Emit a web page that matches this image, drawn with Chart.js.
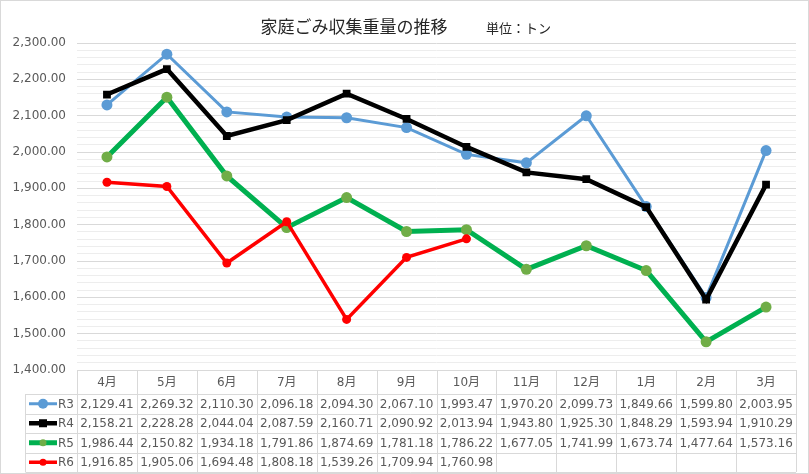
<!DOCTYPE html>
<html>
<head>
<meta charset="utf-8">
<script src="https://cdn.jsdelivr.net/npm/chart.js@4"></script>
<style>
  body { margin: 0; background: #fff; }
  #wrap { width: 809px; height: 474px; position: relative; }
</style>
</head>
<body>
<div id="wrap"><canvas id="grafico"></canvas></div>
<script>
const meses = ['4月', '5月', '6月', '7月', '8月', '9月', '10月', '11月', '12月', '1月', '2月', '3月'];
const r3 = [2129.41, 2269.32, 2110.30, 2096.18, 2094.30, 2067.10, 1993.47, 1970.20, 2099.73, 1849.66, 1599.80, 2003.95];
const r4 = [2158.21, 2228.28, 2044.04, 2087.59, 2160.71, 2090.92, 2013.94, 1943.80, 1925.30, 1848.29, 1593.94, 1910.29];
const r5 = [1986.44, 2150.82, 1934.18, 1791.86, 1874.69, 1781.18, 1786.22, 1677.05, 1741.99, 1673.74, 1477.64, 1573.16];
const r6 = [1916.85, 1905.06, 1694.48, 1808.18, 1539.26, 1709.94, 1760.98, null, null, null, null, null];
const titulo = '家庭ごみ収集重量の推移';
const unidad = '単位：トン';

const fmt = (v) => v.toLocaleString('en-US', { minimumFractionDigits: 2, maximumFractionDigits: 2 });
const fuenteNum = '12px "DejaVu Sans", "Noto Sans CJK JP", sans-serif';
const gris = '#D9D9D9';

// tabla de datos + título, dibujados a mano
const tablaPlugin = {
  id: 'tabla',
  afterDraw(chart) {
    const ctx = chart.ctx;
    const x = chart.scales.x;
    const area = chart.chartArea;
    const w = (area.right - area.left) / meses.length;
    const top = area.bottom;
    const headH = 24;
    const rowH = 19.5;
    const bottom = top + headH + rowH * 4;
    const legL = 25.5;

    ctx.save();
    // borde exterior
    ctx.strokeStyle = gris;
    ctx.lineWidth = 1;
    ctx.strokeRect(0.5, 0.5, chart.width - 1, chart.height - 1);

    // líneas de la tabla
    ctx.beginPath();
    ctx.moveTo(area.left, Math.round(top) + 0.5);
    ctx.lineTo(area.right, Math.round(top) + 0.5);
    for (let i = 0; i <= 4; i++) {
      const y = Math.round(top + headH + rowH * i) + 0.5;
      ctx.moveTo(legL, y);
      ctx.lineTo(area.right, y);
    }
    for (let i = 0; i <= meses.length; i++) {
      const xx = Math.round(area.left + w * i) + 0.5;
      ctx.moveTo(xx, top);
      ctx.lineTo(xx, bottom);
    }
    ctx.moveTo(legL, top + headH);
    ctx.lineTo(legL, bottom);
    ctx.stroke();

    // encabezados
    ctx.fillStyle = '#595959';
    ctx.font = fuenteNum;
    ctx.textAlign = 'center';
    ctx.textBaseline = 'middle';
    meses.forEach((m, i) => {
      ctx.fillText(m, x.getPixelForValue(i), top + headH / 2 + 1);
    });

    // filas
    chart.data.datasets.forEach((ds, r) => {
      const cy = top + headH + rowH * r + rowH / 2 + 1;
      ds.data.forEach((v, i) => {
        if (v === null) return;
        ctx.textAlign = 'center';
        ctx.fillText(fmt(v), x.getPixelForValue(i), cy);
      });
      // muestra de leyenda
      const ly = cy - 1;
      ctx.strokeStyle = ds.borderColor;
      ctx.lineWidth = ds.borderWidth;
      ctx.beginPath();
      ctx.moveTo(29, ly);
      ctx.lineTo(57, ly);
      ctx.stroke();
      ctx.fillStyle = ds.pointBackgroundColor;
      if (ds.pointStyle === 'rect') {
        ctx.fillRect(43 - 4, ly - 4, 8, 8);
      } else {
        ctx.beginPath();
        ctx.arc(43, ly, ds.legR, 0, Math.PI * 2);
        ctx.fill();
      }
      ctx.fillStyle = '#595959';
      ctx.textAlign = 'left';
      ctx.fillText(ds.label, 58, cy);
    });

    // título
    ctx.fillStyle = '#262626';
    ctx.textAlign = 'center';
    ctx.textBaseline = 'middle';
    ctx.font = '17px "Noto Sans CJK JP", sans-serif';
    ctx.fillText(titulo, 354, 27);
    ctx.textAlign = 'left';
    ctx.font = '13px "Noto Sans CJK JP", sans-serif';
    ctx.fillText(unidad, 486, 28);
    ctx.restore();
  },
};

new Chart(document.getElementById('grafico'), {
  type: 'line',
  data: {
    labels: meses,
    datasets: [
      {
        label: 'R3', data: r3, order: 3,
        borderColor: '#5B9BD5', borderWidth: 3,
        pointBackgroundColor: '#5B9BD5', pointBorderColor: '#5B9BD5',
        pointStyle: 'circle', pointRadius: 5.5, pointBorderWidth: 0, legR: 5,
      },
      {
        label: 'R4', data: r4, order: 2,
        borderColor: '#000000', borderWidth: 4.5,
        pointBackgroundColor: '#000000', pointBorderColor: '#000000',
        pointStyle: 'rect', pointRadius: 5.5, pointBorderWidth: 0, legR: 4,
      },
      {
        label: 'R5', data: r5, order: 1,
        borderColor: '#00B050', borderWidth: 5,
        pointBackgroundColor: '#70AD47', pointBorderColor: '#70AD47',
        pointStyle: 'circle', pointRadius: 5.5, pointBorderWidth: 0, legR: 3.5,
      },
      {
        label: 'R6', data: r6, order: 0,
        borderColor: '#FF0000', borderWidth: 3.5,
        pointBackgroundColor: '#FF0000', pointBorderColor: '#FF0000',
        pointStyle: 'circle', pointRadius: 4.5, pointBorderWidth: 0, legR: 3.5,
      },
    ],
  },
  options: {
    responsive: true,
    maintainAspectRatio: false,
    animation: false,
    layout: { padding: { top: 43, right: 13, bottom: 104, left: 0 } },
    plugins: { legend: { display: false }, tooltip: { enabled: false } },
    elements: { line: { tension: 0 } },
    scales: {
      x: { display: false, offset: true },
      y: {
        min: 1400,
        max: 2300,
        afterFit: (s) => { s.width = 77; },
        border: { display: false },
        grid: {
          drawTicks: false,
          color: (c) => (c.tick && c.tick.value % 100 === 0 ? gris : '#EDEDED'),
        },
        ticks: {
          stepSize: 20,
          autoSkip: false,
          maxTicksLimit: 100,
          padding: 11,
          color: '#595959',
          font: { family: '"DejaVu Sans", sans-serif', size: 12 },
          callback: (v) => (v % 100 === 0 ? fmt(v) : ''),
        },
      },
    },
  },
  plugins: [tablaPlugin],
});
</script>
</body>
</html>
